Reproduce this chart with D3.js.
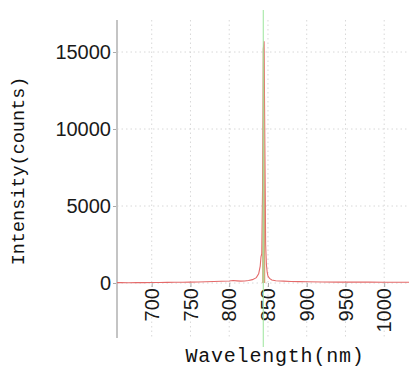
<!DOCTYPE html>
<html>
<head>
<meta charset="utf-8">
<script src="https://cdn.jsdelivr.net/npm/d3@7"></script>
<style>
  body { margin: 0; background: #fff; }
  svg { display: block; }
</style>
</head>
<body>
<div id="chart"></div>
<script>
const width = 409;
const height = 383;

// spectrum
const wavelengths = [650, 660, 670, 680, 690, 700, 710, 720, 730, 740, 750, 760, 770, 780, 790, 800, 805, 810, 815, 820, 825, 830, 835, 838, 840, 841, 842, 843, 844, 845, 846, 847, 848, 849, 850, 852, 855, 860, 870, 880, 890, 900, 920, 940, 960, 980, 1000, 1020, 1050];
const intensity = [20, 25, 20, 30, 25, 30, 35, 40, 45, 50, 60, 70, 80, 95, 110, 130, 160, 140, 120, 130, 160, 220, 350, 600, 1100, 1700, 1900, 6000, 15200, 15700, 9000, 2500, 1200, 700, 450, 300, 200, 150, 120, 100, 90, 80, 70, 60, 60, 55, 50, 50, 45];
// narrow peak that shows as a tan band
const peakWl = [842.5, 843, 844, 845, 846, 846.5];
const peakVal = [1900, 5000, 14800, 15300, 8000, 2500];

const xTicks = [700, 750, 800, 850, 900, 950, 1000];
const yTicks = [0, 5000, 10000, 15000];
const markerWl = 844;

const plot = { left: 117, top: 20, bottom: 338 };

const svg = d3.select("#chart").append("svg")
  .attr("width", width).attr("height", height)
  .attr("viewBox", `0 0 ${width} ${height}`);

const x = d3.scaleLinear().domain([655.2, 1032]).range([plot.left, width]);
const y = d3.scaleLinear().domain([-3571, 17078]).range([plot.bottom, plot.top]);

svg.append("defs").append("clipPath").attr("id", "clip")
  .append("rect").attr("x", plot.left).attr("y", 0)
  .attr("width", width - plot.left).attr("height", height);

// grid
const grid = svg.append("g").attr("clip-path", "url(#clip)");
grid.selectAll("line.vg").data(xTicks).enter().append("line")
  .attr("class", "vg")
  .attr("x1", d => x(d)).attr("x2", d => x(d))
  .attr("y1", plot.top).attr("y2", plot.bottom)
  .attr("stroke", "#d8d8d8").attr("stroke-dasharray", "1.5,3");
grid.selectAll("line.hg").data(yTicks).enter().append("line")
  .attr("class", "hg")
  .attr("x1", plot.left).attr("x2", width)
  .attr("y1", d => y(d)).attr("y2", d => y(d))
  .attr("stroke", "#d8d8d8").attr("stroke-dasharray", "1.5,3");

// x axis ticks + rotated labels
const xAxis = svg.append("g")
  .attr("transform", `translate(0,${y(0)})`)
  .call(d3.axisBottom(x).tickValues(xTicks).tickSize(4).tickFormat(""));
xAxis.select(".domain").remove();
xAxis.selectAll(".tick line").attr("stroke", "#aaa");

svg.append("g").selectAll("text").data(xTicks).enter().append("text")
  .attr("transform", d => `translate(${x(d)},${y(0) + 5}) rotate(-90)`)
  .attr("text-anchor", "end")
  .attr("dy", "0.36em")
  .attr("font-family", "Liberation Sans, Arial, sans-serif")
  .attr("font-size", 20)
  .attr("fill", "#1a1a1a")
  .text(d => d);

// y axis
const yAxis = svg.append("g")
  .attr("transform", `translate(${plot.left},0)`)
  .call(d3.axisLeft(y).tickValues(yTicks).tickSize(4).tickPadding(2).tickFormat(d3.format("d")));
yAxis.select(".domain").remove();
yAxis.selectAll(".tick line").attr("stroke", "#aaa");
yAxis.selectAll(".tick text")
  .attr("font-family", "Liberation Sans, Arial, sans-serif")
  .attr("font-size", 20)
  .attr("fill", "#1a1a1a");
svg.append("line")
  .attr("x1", plot.left).attr("x2", plot.left)
  .attr("y1", plot.top).attr("y2", plot.bottom)
  .attr("stroke", "#c4c4c4").attr("stroke-width", 2);

// data
const g = svg.append("g").attr("clip-path", "url(#clip)");

const spec = wavelengths.map((w, i) => [w, intensity[i]]);
g.append("path")
  .datum(spec)
  .attr("fill", "none")
  .attr("stroke", "#e46a6a")
  .attr("stroke-width", 1.1)
  .attr("d", d3.line().x(d => x(d[0])).y(d => y(d[1])));

const peak = peakWl.map((w, i) => [w, peakVal[i]]);
g.append("path")
  .datum(peak)
  .attr("fill", "#d6a67c")
  .attr("d", d3.area().x(d => x(d[0])).y0(y(0)).y1(d => y(d[1])));

g.append("line")
  .attr("x1", x(markerWl)).attr("x2", x(markerWl))
  .attr("y1", 10).attr("y2", 347)
  .attr("stroke", "#9ee69e").attr("stroke-width", 1.2)
  .attr("opacity", 0.85);

// axis titles
svg.append("text")
  .attr("transform", `translate(24,${(80 + 262) / 2}) rotate(-90)`)
  .attr("text-anchor", "middle")
  .attr("font-family", "Liberation Mono, Courier New, monospace")
  .attr("font-size", 18.5)
  .attr("fill", "#111")
  .text("Intensity(counts)");

svg.append("text")
  .attr("x", 275).attr("y", 362)
  .attr("text-anchor", "middle")
  .attr("font-family", "Liberation Mono, Courier New, monospace")
  .attr("font-size", 20)
  .attr("letter-spacing", 0.8)
  .attr("fill", "#111")
  .text("Wavelength(nm)");
</script>
</body>
</html>
